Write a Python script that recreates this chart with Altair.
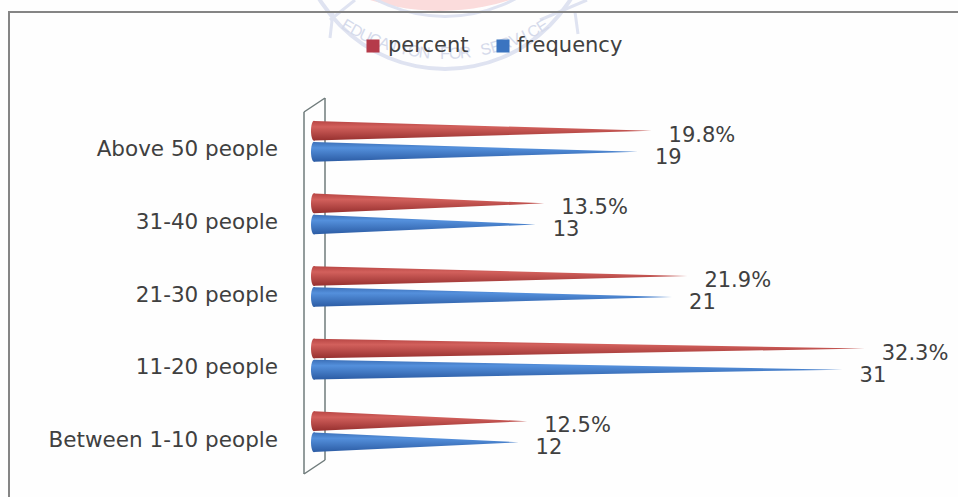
import math
import altair as alt
import pandas as pd

# Survey values, listed from the lowest row of the chart upward
categories = ["Between 1-10 people", "11-20 people", "21-30 people", "31-40 people", "Above 50 people"]
percent = [12.5, 32.3, 21.9, 13.5, 19.8]
frequency = [12, 31, 21, 13, 19]
series_names = ["percent", "frequency"]
crest_motto = "EDUCATION FOR SERVICE"

W, H = 958, 497
ZERO_PX, PX_PER_UNIT = 314, 17.05
x_scale = alt.Scale(domain=[-ZERO_PX / PX_PER_UNIT, (W - ZERO_PX) / PX_PER_UNIT], range=[0, W], nice=False, zero=False)
y_scale = alt.Scale(domain=[-0.5, 4.5], range=[468, 105], nice=False, zero=False)
px_x = alt.Scale(domain=[0, W], range=[0, W], nice=False, zero=False)
px_y = alt.Scale(domain=[0, H], range=[0, H], nice=False, zero=False)
FONT = "DejaVu Sans"
INK = "#404040"

ROW_SHIFT = {"percent": 0.145, "frequency": -0.145}
CONE_HALF = 0.135  # half the base thickness of a cone, in row units
CAP_SHAPE = "M 0 -1 A 0.3 1 0 1 0 0 1 A 0.3 1 0 1 0 0 -1 Z"


def vertical_gradient(top, light, bottom):
    return alt.Gradient(gradient="linear", x1=0, y1=0, x2=0, y2=1, stops=[
        alt.GradientStop(color=top, offset=0),
        alt.GradientStop(color=light, offset=0.3),
        alt.GradientStop(color=bottom, offset=1),
    ])


FILLS = {
    "percent": vertical_gradient("#b84644", "#d2605c", "#96302f"),
    "frequency": vertical_gradient("#3c70b8", "#5490dc", "#2c5ca4"),
}


def cone_layers(name, values):
    rows = []
    for i, v in enumerate(values):
        centre = i + ROW_SHIFT[name]
        rows.append(dict(row=i, value=0, top=centre + CONE_HALF, bottom=centre - CONE_HALF))
        rows.append(dict(row=i, value=v, top=centre, bottom=centre))
    frame = pd.DataFrame(rows)
    body = alt.Chart(frame).mark_area(color=FILLS[name], orient="vertical").encode(
        x=alt.X("value:Q", scale=x_scale, axis=None),
        y=alt.Y("top:Q", scale=y_scale, axis=None),
        y2="bottom:Q",
        detail="row:N",
    )
    caps = alt.Chart(pd.DataFrame({
        "value": [0] * len(values),
        "y": [i + ROW_SHIFT[name] for i in range(len(values))],
    })).mark_point(shape=CAP_SHAPE, filled=True, size=400, color=FILLS[name], opacity=1).encode(
        x=alt.X("value:Q", scale=x_scale, axis=None),
        y=alt.Y("y:Q", scale=y_scale, axis=None),
    )
    return [body, caps]


def value_labels(values, name, suffix, dy):
    frame = pd.DataFrame({
        "value": values,
        "y": [i + ROW_SHIFT[name] for i in range(len(values))],
        "label": [f"{v}{suffix}" for v in values],
    })
    return alt.Chart(frame).mark_text(align="left", dx=17, dy=dy, font=FONT, fontSize=21, color=INK).encode(
        x=alt.X("value:Q", scale=x_scale, axis=None),
        y=alt.Y("y:Q", scale=y_scale, axis=None),
        text="label:N",
    )


category_labels = alt.Chart(pd.DataFrame({
    "row": list(range(len(categories))), "name": categories,
})).mark_text(align="right", dy=9, font=FONT, fontSize=21.5, color=INK).encode(
    x=alt.value(278),
    y=alt.Y("row:Q", scale=y_scale, axis=None),
    text="name:N",
)


def stroke(x, x2, y, y2, color, width):
    return alt.Chart(pd.DataFrame({"a": [0]})).mark_rule(color=color, strokeWidth=width).encode(
        x=alt.value(x), x2=alt.value(x2), y=alt.value(y), y2=alt.value(y2),
    )


# Key above the plot: swatches and their names
def key_entry(swatch_x, text_x, color, name):
    one = pd.DataFrame({"name": [name]})
    return [
        alt.Chart(one).mark_square(color=color, size=170, opacity=1).encode(x=alt.value(swatch_x), y=alt.value(46)),
        alt.Chart(one).mark_text(align="left", font=FONT, fontSize=21, color=INK).encode(
            x=alt.value(text_x), y=alt.value(46), text="name:N"),
    ]


key = key_entry(373, 388, "#b53b4a", series_names[0]) + key_entry(503, 517, "#3b74c0", series_names[1])

# Outer frame and the thin 3D wall behind the cones
frame_lines = [stroke(8, W, 12, 12, "#858585", 2), stroke(9, 9, 12, H, "#858585", 2)]
WALL = "#6f7b7b"
wall_lines = [
    stroke(304, 304, 112, 474, WALL, 1.5),
    stroke(325, 325, 98, 460, WALL, 1.5),
    stroke(304, 325, 112, 98, WALL, 1.5),
    stroke(304, 325, 474, 460, WALL, 1.5),
]


def disc(cx, cy, outer, inner, color):
    return alt.Chart(pd.DataFrame({"x": [cx], "y": [cy]})).mark_arc(
        color=color, radius=outer, radius2=inner, theta=0, theta2=2 * math.pi,
    ).encode(
        x=alt.X("x:Q", scale=px_x, axis=None), y=alt.Y("y:Q", scale=px_y, axis=None),
    )


# Faint crest sitting behind the key
CREST = "#dfe3f1"
seal = disc(440, -217, 228, 0, "#fbdcdc")
rings = [disc(445, -79, 150, 146, CREST), disc(445, -132, 150, 147, CREST)]
crest_sides = [
    stroke(333, 330, 12, 38, CREST, 3), stroke(355, 330, 0, 20, CREST, 3),
    stroke(575, 578, 12, 34, CREST, 3), stroke(540, 587, 20, 0, CREST, 3),
]
R, CX, CY = 192, 445, -130
span = 32.0
motto_rows = []
for k, ch in enumerate(crest_motto):
    t = -span + 2 * span * k / (len(crest_motto) - 1)
    motto_rows.append(dict(
        ch=ch,
        x=CX + R * math.sin(math.radians(t)),
        y=CY + R * math.cos(math.radians(t)),
        a=(-t) % 360,
    ))
motto = alt.Chart(pd.DataFrame(motto_rows)).mark_text(font="Liberation Sans", fontSize=16, color="#d5daeb", baseline="bottom").encode(
    x=alt.X("x:Q", scale=px_x, axis=None), y=alt.Y("y:Q", scale=px_y, axis=None),
    text="ch:N", angle=alt.Angle("a:Q", scale=None),
)

chart = alt.layer(
    seal, *rings, *crest_sides, motto,
    *frame_lines, *wall_lines,
    *cone_layers("percent", percent), *cone_layers("frequency", frequency),
    category_labels, *key,
    value_labels(percent, "percent", "%", 5),
    value_labels(frequency, "frequency", "", 6),
).resolve_scale(x="independent", y="independent").properties(
    width=W, height=H, padding=0, autosize=alt.AutoSizeParams(type="none"), background="#fefefe",
).configure_view(stroke=None)

chart.save("out.html", embed_options={"renderer": "svg", "actions": False})
